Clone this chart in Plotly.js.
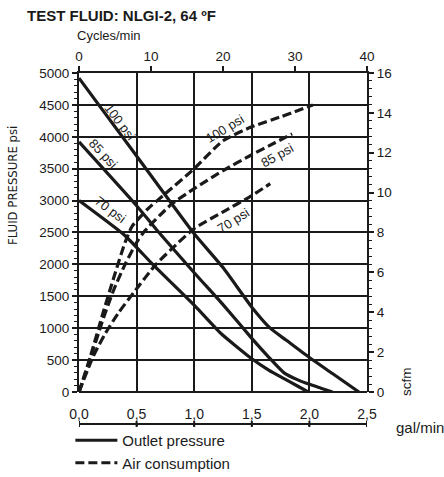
<!DOCTYPE html>
<html>
<head>
<meta charset="utf-8">
<script src="https://cdn.plot.ly/plotly-3.0.1.min.js"></script>
<style>html,body{margin:0;padding:0;background:#fff}#chart{width:444px;height:477px}</style>
</head>
<body>
<div id="chart"></div>
<script>
// Outlet pressure (psi) vs flow (gal/min)
const outletFlow100 = [0, 0.5, 1.0, 1.25, 1.5, 1.66, 1.8, 2.0, 2.2, 2.43];
const outletPsi100  = [4920, 3700, 2480, 1950, 1330, 1000, 810, 540, 290, 0];
const outletFlow85  = [0, 0.5, 0.675, 1.0, 1.25, 1.5, 1.65, 1.78, 1.9, 2.0, 2.1, 2.2];
const outletPsi85   = [3920, 2920, 2540, 1870, 1370, 840, 540, 300, 190, 120, 60, 0];
const outletFlow70  = [0, 0.4, 0.64, 1.0, 1.23, 1.5, 1.65, 1.78, 1.9, 1.99];
const outletPsi70   = [3000, 2450, 2000, 1360, 920, 520, 340, 210, 90, 0];
// Air consumption (scfm) vs flow (gal/min)
const airFlow100 = [0, 0.1, 0.2, 0.3, 0.4, 0.46, 0.6, 0.75, 1.0, 1.25, 1.5, 1.75, 2.03];
const airScfm100 = [0, 1.8, 3.8, 5.7, 7.5, 8.3, 9.2, 9.95, 11.2, 12.6, 13.3, 13.8, 14.4];
const airFlow85  = [0, 0.1, 0.2, 0.3, 0.4, 0.5, 0.56, 0.8, 1.0, 1.25, 1.5, 1.7, 1.85];
const airScfm85  = [0, 1.7, 3.5, 5.1, 6.4, 7.5, 8.0, 9.4, 10.2, 11.1, 11.9, 12.5, 12.95];
const airFlow70  = [0, 0.125, 0.23, 0.34, 0.49, 0.66, 0.8, 1.0, 1.24, 1.5, 1.66];
const airScfm70  = [0, 1.8, 2.95, 3.95, 5.1, 6.35, 7.15, 8.2, 9.0, 9.85, 10.45];
// Tick labels
const flowTickVals = [0, 0.5, 1.0, 1.5, 2.0, 2.5];
const flowTickText = ['0,0', '0,5', '1,0', '1,5', '2,0', '2,5'];
const cycleTickVals = [0, 10, 20, 30, 40];
const psiTickVals = [0, 500, 1000, 1500, 2000, 2500, 3000, 3500, 4000, 4500, 5000];
const scfmTickVals = [0, 2, 4, 6, 8, 10, 12, 14, 16];
const seriesLabels = ['100 psi', '85 psi', '70 psi'];

const FONT = 'Liberation Sans, Arial, sans-serif';
const NARROW = 'Liberation Sans Narrow, DejaVu Sans Condensed, Arial, sans-serif';
const INK = '#1a1a1a';

function solid(x, y, name, show) {
  return {x: x, y: y, xaxis: 'x', yaxis: 'y', type: 'scatter', mode: 'lines',
    name: name, legendgroup: name, showlegend: show,
    line: {color: INK, width: 3.2, shape: 'spline', smoothing: 0.5}, hoverinfo: 'skip'};
}
function dashed(x, y, name, show) {
  return {x: x, y: y, xaxis: 'x', yaxis: 'y2', type: 'scatter', mode: 'lines',
    name: name, legendgroup: name, showlegend: show,
    line: {color: INK, width: 3.2, dash: '9px,4px', shape: 'spline', smoothing: 0.6}, hoverinfo: 'skip'};
}

const data = [
  solid(outletFlow100, outletPsi100, 'Outlet pressure', true),
  solid(outletFlow85, outletPsi85, 'Outlet pressure', false),
  solid(outletFlow70, outletPsi70, 'Outlet pressure', false),
  dashed(airFlow100, airScfm100, 'Air consumption', true),
  dashed(airFlow85, airScfm85, 'Air consumption', false),
  dashed(airFlow70, airScfm70, 'Air consumption', false),
  // empty traces so the Cycles/min axis and the floating gal/min axis are drawn
  {x: [], y: [], xaxis: 'x2', yaxis: 'y', type: 'scatter', mode: 'lines', showlegend: false, hoverinfo: 'skip'},
  {x: [], y: [], xaxis: 'x3', yaxis: 'y3', type: 'scatter', mode: 'lines', showlegend: false, hoverinfo: 'skip'}
];

const lbl = (x, y, yref, text, ang) => ({x: x, y: y, xref: 'x', yref: yref, text: text,
  textangle: ang, showarrow: false, font: {family: FONT, size: 13, color: INK}});

// floating gal/min axis line and crossing ticks
const bottomShapes = [{type: 'line', xref: 'x3', yref: 'paper',
  x0: flowTickVals[0], x1: flowTickVals[flowTickVals.length - 1], y0: 0, y1: 0,
  line: {color: INK, width: 2}}].concat(flowTickVals.map(v => ({type: 'line', xref: 'x3', yref: 'paper',
  x0: v, x1: v, y0: -3/351, y1: 3/351, line: {color: INK, width: 2}})));

const layout = {
  width: 444, height: 477,
  margin: {l: 79, r: 77, t: 73, b: 53, autoexpand: false},
  paper_bgcolor: '#fff', plot_bgcolor: 'rgba(0,0,0,0)',
  showlegend: true,
  legend: {x: -0.03, xanchor: 'left', y: 0.0, yanchor: 'top', bgcolor: 'rgba(0,0,0,0)',
    itemwidth: 42, font: {family: FONT, size: 15, color: INK}, tracegroupgap: 0},
  title: {text: 'TEST FLUID: NLGI-2, 64 ºF', x: 27/444, xanchor: 'left', xref: 'container',
    y: 1 - 16/477, yanchor: 'middle', yref: 'container',
    font: {family: FONT, size: 15, weight: 'bold', color: INK}},
  xaxis: {anchor: 'y', range: [0, 2.5], tickvals: flowTickVals, showticklabels: false,
    showgrid: true, gridcolor: INK, gridwidth: 2, zeroline: false, showline: false, ticks: ''},
  xaxis2: {overlaying: 'x', side: 'top', anchor: 'y', range: [0, 40], tickvals: cycleTickVals,
    showgrid: false, zeroline: false, showline: true, linecolor: INK, linewidth: 2,
    ticks: 'outside', ticklen: 5, tickwidth: 2, tickcolor: INK,
    tickfont: {family: FONT, size: 13.5, color: INK}},
  xaxis3: {anchor: 'y3', side: 'top', range: [0, 2.5], tickvals: flowTickVals, ticktext: flowTickText,
    showgrid: false, zeroline: false, showline: false,
    ticks: 'inside', ticklen: 3, tickwidth: 2, tickcolor: INK,
    tickfont: {family: FONT, size: 14, color: INK}},
  yaxis3: {domain: [0, 0.002], range: [0, 1], anchor: 'x3', showticklabels: false, showgrid: false,
    zeroline: false, showline: false, ticks: ''},
  yaxis: {domain: [0.0912, 1], range: [0, 5000], tickvals: psiTickVals, showgrid: true,
    gridcolor: INK, gridwidth: 2, zeroline: true, zerolinecolor: INK, zerolinewidth: 2,
    showline: true, linecolor: INK, linewidth: 2, ticks: 'outside', ticklen: 5, tickwidth: 2,
    tickcolor: INK, minor: {dtick: 100, ticks: 'outside', ticklen: 3, tickcolor: INK, tickwidth: 1, showgrid: false},
    tickfont: {family: FONT, size: 13.5, color: INK}},
  yaxis2: {overlaying: 'y', side: 'right', anchor: 'x', range: [0, 16], tickvals: scfmTickVals,
    showgrid: false, zeroline: false, showline: true, linecolor: INK, linewidth: 2,
    ticks: 'outside', ticklen: 5, tickwidth: 2, tickcolor: INK,
    minor: {dtick: 0.4, ticks: 'outside', ticklen: 3, tickcolor: INK, tickwidth: 1, showgrid: false},
    tickfont: {family: FONT, size: 13.5, color: INK}},
  shapes: bottomShapes,
  annotations: [
    {xref: 'paper', yref: 'paper', x: -4/288, y: 1 + 38/351, xanchor: 'left', yanchor: 'middle',
      text: 'Cycles/min', showarrow: false, font: {family: FONT, size: 13, color: INK}},
    {xref: 'paper', yref: 'paper', x: -67/288, y: (424 - 186)/351, xanchor: 'center', yanchor: 'middle',
      text: 'FLUID PRESSURE psi', textangle: -90, showarrow: false, font: {family: NARROW, size: 13, color: INK}},
    {xref: 'paper', yref: 'paper', x: (406 - 79)/288, y: (424 - 382)/351, xanchor: 'center', yanchor: 'middle',
      text: 'scfm', textangle: -90, showarrow: false, font: {family: FONT, size: 13.5, color: INK}},
    {xref: 'paper', yref: 'paper', x: (394 - 79)/288, y: (424 - 427)/351, xanchor: 'left', yanchor: 'middle',
      text: 'gal/min', showarrow: false, font: {family: FONT, size: 15, color: INK}},
    lbl(0.36, 4230, 'y', seriesLabels[0], 53),
    lbl(0.21, 3740, 'y', seriesLabels[1], 47),
    lbl(0.27, 2860, 'y', seriesLabels[2], 37),
    lbl(1.27, 13.2, 'y2', seriesLabels[0], -31),
    lbl(1.72, 11.85, 'y2', seriesLabels[1], -29),
    lbl(1.34, 8.6, 'y2', seriesLabels[2], -32)
  ]
};

Plotly.newPlot('chart', data, layout, {displayModeBar: false, staticPlot: true});
</script>
</body>
</html>
